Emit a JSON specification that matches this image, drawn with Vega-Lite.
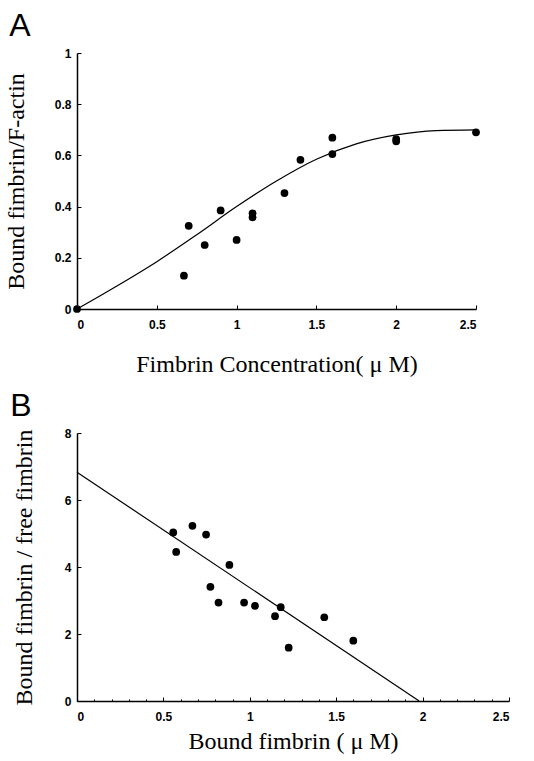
{
  "$schema": "https://vega.github.io/schema/vega-lite/v6.json",
  "padding": {"left": 4, "top": 10, "right": 10, "bottom": 5},
  "background": "white",
  "config": {
    "view": {"stroke": null},
    "axis": {
      "grid": false,
      "domainColor": "black",
      "domainWidth": 1.5,
      "tickColor": "black",
      "tickSize": -4,
      "labelFont": "Liberation Sans",
      "labelFontWeight": "bold",
      "labelFontSize": 12,
      "labelColor": "black",
      "titleFont": "Liberation Serif",
      "titleFontWeight": "normal",
      "titleFontSize": 24,
      "titleColor": "black"
    },
    "title": {"font": "Liberation Sans", "fontWeight": "normal", "fontSize": 32, "color": "black", "anchor": "start", "frame": "bounds"}
  },
  "spacing": 14,
  "vconcat": [
    {
      "title": {"text": "A", "offset": 4, "dx": 5},
      "width": 399,
      "height": 256,
      "layer": [
        {
          "data": {"values": [
            {"x": 0, "y": 0}, {"x": 0.25, "y": 0.09}, {"x": 0.5, "y": 0.185}, {"x": 0.75, "y": 0.29},
            {"x": 1.0, "y": 0.4}, {"x": 1.25, "y": 0.5}, {"x": 1.5, "y": 0.585}, {"x": 1.75, "y": 0.645},
            {"x": 2.0, "y": 0.68}, {"x": 2.25, "y": 0.697}, {"x": 2.5, "y": 0.7}
          ]},
          "mark": {"type": "line", "color": "black", "strokeWidth": 1.2, "interpolate": "monotone"},
          "encoding": {
            "x": {"field": "x", "type": "quantitative", "scale": {"domain": [0, 2.5], "nice": false},
              "axis": {"title": "Fimbrin Concentration( μ M)", "values": [0, 0.5, 1, 1.5, 2, 2.5], "format": "~g", "labelPadding": 14, "titlePadding": 22}},
            "y": {"field": "y", "type": "quantitative", "scale": {"domain": [0, 1], "nice": false},
              "axis": {"title": "Bound fimbrin/F-actin", "values": [0, 0.2, 0.4, 0.6, 0.8, 1], "format": "~g", "labelPadding": 10, "titlePadding": 26}}
          }
        },
        {
          "data": {"values": [
            {"x": 0, "y": 0}, {"x": 0.67, "y": 0.13}, {"x": 0.7, "y": 0.325}, {"x": 0.8, "y": 0.25},
            {"x": 0.9, "y": 0.385}, {"x": 1.0, "y": 0.27}, {"x": 1.1, "y": 0.374}, {"x": 1.1, "y": 0.358},
            {"x": 1.3, "y": 0.453}, {"x": 1.4, "y": 0.583}, {"x": 1.6, "y": 0.669}, {"x": 1.6, "y": 0.605},
            {"x": 2.0, "y": 0.664}, {"x": 2.0, "y": 0.655}, {"x": 2.5, "y": 0.69}
          ]},
          "mark": {"type": "point", "filled": true, "color": "black", "opacity": 1, "size": 60},
          "encoding": {
            "x": {"field": "x", "type": "quantitative"},
            "y": {"field": "y", "type": "quantitative"}
          }
        }
      ]
    },
    {
      "title": {"text": "B", "offset": 4, "dx": -2},
      "width": 432,
      "height": 268,
      "resolve": {"axis": {"x": "independent"}},
      "layer": [
        {
          "data": {"values": [{"x": 0, "y": 6.83}, {"x": 1.98, "y": 0}]},
          "mark": {"type": "line", "color": "black", "strokeWidth": 1.2},
          "encoding": {
            "x": {"field": "x", "type": "quantitative", "scale": {"domain": [0, 2.5], "nice": false},
              "axis": {"title": "Bound fimbrin ( μ M)", "values": [0, 0.5, 1, 1.5, 2, 2.5], "format": "~g", "labelPadding": 14, "titlePadding": 7}},
            "y": {"field": "y", "type": "quantitative", "scale": {"domain": [0, 8], "nice": false},
              "axis": {"title": "Bound fimbrin / free fimbrin", "values": [0, 2, 4, 6, 8], "format": "~g", "labelPadding": 10, "titlePadding": 28}}
          }
        },
        {
          "data": {"values": [
            {"x": 0.557, "y": 5.03}, {"x": 0.574, "y": 4.45}, {"x": 0.668, "y": 5.23}, {"x": 0.747, "y": 4.97},
            {"x": 0.882, "y": 4.06}, {"x": 0.772, "y": 3.41}, {"x": 0.819, "y": 2.94}, {"x": 0.967, "y": 2.94},
            {"x": 1.03, "y": 2.84}, {"x": 1.146, "y": 2.53}, {"x": 1.179, "y": 2.8}, {"x": 1.225, "y": 1.59},
            {"x": 1.431, "y": 2.5}, {"x": 1.599, "y": 1.8}
          ]},
          "mark": {"type": "point", "filled": true, "color": "black", "opacity": 1, "size": 60},
          "encoding": {
            "x": {"field": "x", "type": "quantitative",
              "axis": {"orient": "bottom", "title": null, "labels": false, "domain": false, "tickSize": -2, "tickWidth": 1,
                "values": [0.1, 0.2, 0.3, 0.4, 0.6, 0.7, 0.8, 0.9, 1.1, 1.2, 1.3, 1.4, 1.6, 1.7, 1.8, 1.9, 2.1, 2.2, 2.3, 2.4]}},
            "y": {"field": "y", "type": "quantitative"}
          }
        }
      ]
    }
  ]
}
